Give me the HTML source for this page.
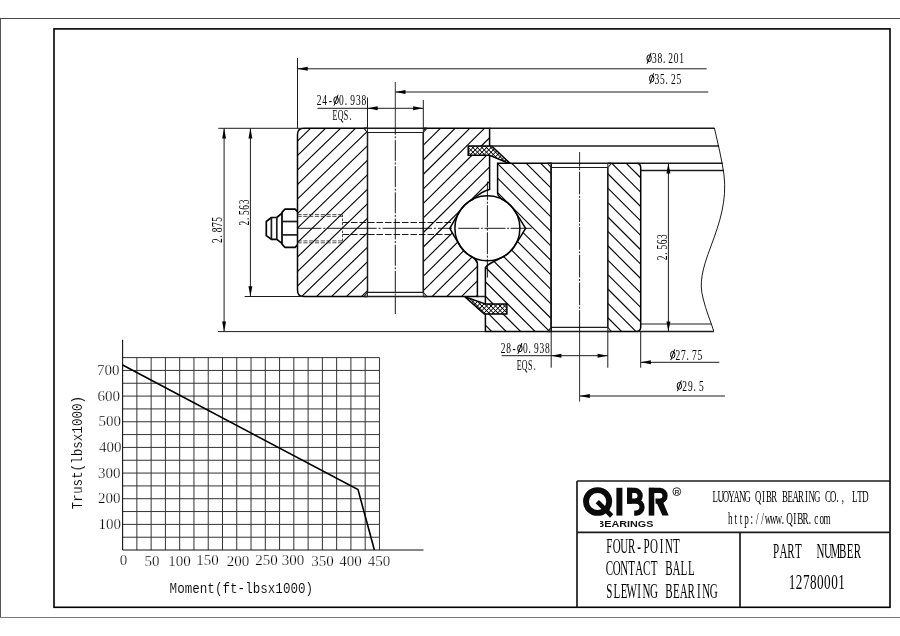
<!DOCTYPE html>
<html><head><meta charset="utf-8"><title>Four-point contact ball slewing bearing 12780001</title>
<style>
html,body{margin:0;padding:0;background:#fff;}
body{width:900px;height:636px;overflow:hidden;font-family:"Liberation Serif",serif;}
svg{display:block;opacity:0.999;will-change:transform;}
</style></head><body>
<svg width="900" height="636" viewBox="0 0 900 636">
<rect width="900" height="636" fill="#fff"/>
<defs>
<clipPath id="cOL"><path d="M367.5,128.3 L303.8,128.3 Q297.5,128.3 297.5,134.60000000000002 L297.5,290.2 Q297.5,296.5 303.8,296.5 L367.5,296.5 Z"/></clipPath>
<clipPath id="cOR"><path d="M423.3,128.3 L489.6,128.3 L489.6,189.4 Q481.5,191.2 473.41,198.97 A32.5,32.5 0 0 0 458.70,213.04 Q454.6,219.6 449.8,228.3 Q454.6,237.00000000000003 458.70,243.56 A32.5,32.5 0 0 0 472.65,257.26 Q476.6,259.6 477.4,263.2 L477.4,296.5 L423.3,296.5 Z"/></clipPath>
<clipPath id="cIL"><path d="M497.6,163.3 L551.2,163.3 L551.2,331.6 L485.4,331.6 L485.4,267.6 Q486.5,264.5 503.65,256.45 A32.5,32.5 0 0 0 516.10,243.56 Q520.4,237.00000000000003 525.6,228.3 Q520.4,219.6 516.10,213.04 A32.5,32.5 0 0 0 503.16,199.87 Q498.3,196.6 497.6,193.6 Z"/></clipPath>
<clipPath id="cIR"><path d="M607.8,163.3 L636.2,163.3 Q640.7,163.3 640.7,167.8 L640.7,327.1 Q640.7,331.6 636.2,331.6 L607.8,331.6 Z"/></clipPath>
<pattern id="xh" width="3.2" height="3.2" patternUnits="userSpaceOnUse" patternTransform="rotate(45 0 0)"><rect width="3.2" height="3.2" fill="#fff"/><path d="M0,0.4 H3.2 M0.4,0 V3.2" stroke="#000" stroke-width="0.85"/></pattern>
</defs>
<line x1="0.00" y1="18.50" x2="900.00" y2="18.50" stroke="#4a4a4a" stroke-width="1" />
<line x1="0.50" y1="18.50" x2="0.50" y2="617.50" stroke="#555" stroke-width="1" />
<line x1="0.00" y1="617.50" x2="900.00" y2="617.50" stroke="#777" stroke-width="1" />
<rect x="54" y="28.9" width="836" height="578.4" fill="none" stroke="#000" stroke-width="1.6"/>
<g clip-path="url(#cOL)" stroke="#000" stroke-width="1.12">
<line x1="290.00" y1="-373.75" x2="380.00" y2="-460.87"/>
<line x1="290.00" y1="-359.25" x2="380.00" y2="-446.37"/>
<line x1="290.00" y1="-344.75" x2="380.00" y2="-431.87"/>
<line x1="290.00" y1="-330.25" x2="380.00" y2="-417.37"/>
<line x1="290.00" y1="-315.75" x2="380.00" y2="-402.87"/>
<line x1="290.00" y1="-301.25" x2="380.00" y2="-388.37"/>
<line x1="290.00" y1="-286.75" x2="380.00" y2="-373.87"/>
<line x1="290.00" y1="-272.25" x2="380.00" y2="-359.37"/>
<line x1="290.00" y1="-257.75" x2="380.00" y2="-344.87"/>
<line x1="290.00" y1="-243.25" x2="380.00" y2="-330.37"/>
<line x1="290.00" y1="-228.75" x2="380.00" y2="-315.87"/>
<line x1="290.00" y1="-214.25" x2="380.00" y2="-301.37"/>
<line x1="290.00" y1="-199.75" x2="380.00" y2="-286.87"/>
<line x1="290.00" y1="-185.25" x2="380.00" y2="-272.37"/>
<line x1="290.00" y1="-170.75" x2="380.00" y2="-257.87"/>
<line x1="290.00" y1="-156.25" x2="380.00" y2="-243.37"/>
<line x1="290.00" y1="-141.75" x2="380.00" y2="-228.87"/>
<line x1="290.00" y1="-127.25" x2="380.00" y2="-214.37"/>
<line x1="290.00" y1="-112.75" x2="380.00" y2="-199.87"/>
<line x1="290.00" y1="-98.25" x2="380.00" y2="-185.37"/>
<line x1="290.00" y1="-83.75" x2="380.00" y2="-170.87"/>
<line x1="290.00" y1="-69.25" x2="380.00" y2="-156.37"/>
<line x1="290.00" y1="-54.75" x2="380.00" y2="-141.87"/>
<line x1="290.00" y1="-40.25" x2="380.00" y2="-127.37"/>
<line x1="290.00" y1="-25.75" x2="380.00" y2="-112.87"/>
<line x1="290.00" y1="-11.25" x2="380.00" y2="-98.37"/>
<line x1="290.00" y1="3.25" x2="380.00" y2="-83.87"/>
<line x1="290.00" y1="17.75" x2="380.00" y2="-69.37"/>
<line x1="290.00" y1="32.25" x2="380.00" y2="-54.87"/>
<line x1="290.00" y1="46.75" x2="380.00" y2="-40.37"/>
<line x1="290.00" y1="61.25" x2="380.00" y2="-25.87"/>
<line x1="290.00" y1="75.75" x2="380.00" y2="-11.37"/>
<line x1="290.00" y1="90.25" x2="380.00" y2="3.13"/>
<line x1="290.00" y1="104.75" x2="380.00" y2="17.63"/>
<line x1="290.00" y1="119.25" x2="380.00" y2="32.13"/>
<line x1="290.00" y1="133.75" x2="380.00" y2="46.63"/>
<line x1="290.00" y1="148.25" x2="380.00" y2="61.13"/>
<line x1="290.00" y1="162.75" x2="380.00" y2="75.63"/>
<line x1="290.00" y1="177.25" x2="380.00" y2="90.13"/>
<line x1="290.00" y1="191.75" x2="380.00" y2="104.63"/>
<line x1="290.00" y1="206.25" x2="380.00" y2="119.13"/>
<line x1="290.00" y1="220.75" x2="380.00" y2="133.63"/>
<line x1="290.00" y1="235.25" x2="380.00" y2="148.13"/>
<line x1="290.00" y1="249.75" x2="380.00" y2="162.63"/>
<line x1="290.00" y1="264.25" x2="380.00" y2="177.13"/>
<line x1="290.00" y1="278.75" x2="380.00" y2="191.63"/>
<line x1="290.00" y1="293.25" x2="380.00" y2="206.13"/>
<line x1="290.00" y1="307.75" x2="380.00" y2="220.63"/>
<line x1="290.00" y1="322.25" x2="380.00" y2="235.13"/>
<line x1="290.00" y1="336.75" x2="380.00" y2="249.63"/>
<line x1="290.00" y1="351.25" x2="380.00" y2="264.13"/>
<line x1="290.00" y1="365.75" x2="380.00" y2="278.63"/>
<line x1="290.00" y1="380.25" x2="380.00" y2="293.13"/>
<line x1="290.00" y1="394.75" x2="380.00" y2="307.63"/>
<line x1="290.00" y1="409.25" x2="380.00" y2="322.13"/>
<line x1="290.00" y1="423.75" x2="380.00" y2="336.63"/>
<line x1="290.00" y1="438.25" x2="380.00" y2="351.13"/>
<line x1="290.00" y1="452.75" x2="380.00" y2="365.63"/>
<line x1="290.00" y1="467.25" x2="380.00" y2="380.13"/>
<line x1="290.00" y1="481.75" x2="380.00" y2="394.63"/>
<line x1="290.00" y1="496.25" x2="380.00" y2="409.13"/>
<line x1="290.00" y1="510.75" x2="380.00" y2="423.63"/>
<line x1="290.00" y1="525.25" x2="380.00" y2="438.13"/>
<line x1="290.00" y1="539.75" x2="380.00" y2="452.63"/>
<line x1="290.00" y1="554.25" x2="380.00" y2="467.13"/>
<line x1="290.00" y1="568.75" x2="380.00" y2="481.63"/>
<line x1="290.00" y1="583.25" x2="380.00" y2="496.13"/>
<line x1="290.00" y1="597.75" x2="380.00" y2="510.63"/>
<line x1="290.00" y1="612.25" x2="380.00" y2="525.13"/>
<line x1="290.00" y1="626.75" x2="380.00" y2="539.63"/>
<line x1="290.00" y1="641.25" x2="380.00" y2="554.13"/>
<line x1="290.00" y1="655.75" x2="380.00" y2="568.63"/>
<line x1="290.00" y1="670.25" x2="380.00" y2="583.13"/>
<line x1="290.00" y1="684.75" x2="380.00" y2="597.63"/>
<line x1="290.00" y1="699.25" x2="380.00" y2="612.13"/>
<line x1="290.00" y1="713.75" x2="380.00" y2="626.63"/>
<line x1="290.00" y1="728.25" x2="380.00" y2="641.13"/>
<line x1="290.00" y1="742.75" x2="380.00" y2="655.63"/>
<line x1="290.00" y1="757.25" x2="380.00" y2="670.13"/>
<line x1="290.00" y1="771.75" x2="380.00" y2="684.63"/>
<line x1="290.00" y1="786.25" x2="380.00" y2="699.13"/>
</g>
<g clip-path="url(#cOR)" stroke="#000" stroke-width="1.12">
<line x1="415.00" y1="-428.54" x2="500.00" y2="-512.69"/>
<line x1="415.00" y1="-413.99" x2="500.00" y2="-498.14"/>
<line x1="415.00" y1="-399.44" x2="500.00" y2="-483.59"/>
<line x1="415.00" y1="-384.89" x2="500.00" y2="-469.04"/>
<line x1="415.00" y1="-370.34" x2="500.00" y2="-454.49"/>
<line x1="415.00" y1="-355.79" x2="500.00" y2="-439.94"/>
<line x1="415.00" y1="-341.24" x2="500.00" y2="-425.39"/>
<line x1="415.00" y1="-326.69" x2="500.00" y2="-410.84"/>
<line x1="415.00" y1="-312.14" x2="500.00" y2="-396.29"/>
<line x1="415.00" y1="-297.59" x2="500.00" y2="-381.74"/>
<line x1="415.00" y1="-283.04" x2="500.00" y2="-367.19"/>
<line x1="415.00" y1="-268.49" x2="500.00" y2="-352.64"/>
<line x1="415.00" y1="-253.94" x2="500.00" y2="-338.09"/>
<line x1="415.00" y1="-239.39" x2="500.00" y2="-323.54"/>
<line x1="415.00" y1="-224.84" x2="500.00" y2="-308.99"/>
<line x1="415.00" y1="-210.29" x2="500.00" y2="-294.44"/>
<line x1="415.00" y1="-195.74" x2="500.00" y2="-279.89"/>
<line x1="415.00" y1="-181.19" x2="500.00" y2="-265.34"/>
<line x1="415.00" y1="-166.64" x2="500.00" y2="-250.79"/>
<line x1="415.00" y1="-152.09" x2="500.00" y2="-236.24"/>
<line x1="415.00" y1="-137.54" x2="500.00" y2="-221.69"/>
<line x1="415.00" y1="-122.99" x2="500.00" y2="-207.14"/>
<line x1="415.00" y1="-108.44" x2="500.00" y2="-192.59"/>
<line x1="415.00" y1="-93.89" x2="500.00" y2="-178.04"/>
<line x1="415.00" y1="-79.34" x2="500.00" y2="-163.49"/>
<line x1="415.00" y1="-64.79" x2="500.00" y2="-148.94"/>
<line x1="415.00" y1="-50.24" x2="500.00" y2="-134.39"/>
<line x1="415.00" y1="-35.69" x2="500.00" y2="-119.84"/>
<line x1="415.00" y1="-21.14" x2="500.00" y2="-105.29"/>
<line x1="415.00" y1="-6.59" x2="500.00" y2="-90.74"/>
<line x1="415.00" y1="7.96" x2="500.00" y2="-76.19"/>
<line x1="415.00" y1="22.51" x2="500.00" y2="-61.64"/>
<line x1="415.00" y1="37.06" x2="500.00" y2="-47.09"/>
<line x1="415.00" y1="51.61" x2="500.00" y2="-32.54"/>
<line x1="415.00" y1="66.16" x2="500.00" y2="-17.99"/>
<line x1="415.00" y1="80.71" x2="500.00" y2="-3.44"/>
<line x1="415.00" y1="95.26" x2="500.00" y2="11.11"/>
<line x1="415.00" y1="109.81" x2="500.00" y2="25.66"/>
<line x1="415.00" y1="124.36" x2="500.00" y2="40.21"/>
<line x1="415.00" y1="138.91" x2="500.00" y2="54.76"/>
<line x1="415.00" y1="153.46" x2="500.00" y2="69.31"/>
<line x1="415.00" y1="168.01" x2="500.00" y2="83.86"/>
<line x1="415.00" y1="182.56" x2="500.00" y2="98.41"/>
<line x1="415.00" y1="197.11" x2="500.00" y2="112.96"/>
<line x1="415.00" y1="211.66" x2="500.00" y2="127.51"/>
<line x1="415.00" y1="226.21" x2="500.00" y2="142.06"/>
<line x1="415.00" y1="240.76" x2="500.00" y2="156.61"/>
<line x1="415.00" y1="255.31" x2="500.00" y2="171.16"/>
<line x1="415.00" y1="269.86" x2="500.00" y2="185.71"/>
<line x1="415.00" y1="284.41" x2="500.00" y2="200.26"/>
<line x1="415.00" y1="298.96" x2="500.00" y2="214.81"/>
<line x1="415.00" y1="313.51" x2="500.00" y2="229.36"/>
<line x1="415.00" y1="328.06" x2="500.00" y2="243.91"/>
<line x1="415.00" y1="342.61" x2="500.00" y2="258.46"/>
<line x1="415.00" y1="357.16" x2="500.00" y2="273.01"/>
<line x1="415.00" y1="371.71" x2="500.00" y2="287.56"/>
<line x1="415.00" y1="386.26" x2="500.00" y2="302.11"/>
<line x1="415.00" y1="400.81" x2="500.00" y2="316.66"/>
<line x1="415.00" y1="415.36" x2="500.00" y2="331.21"/>
<line x1="415.00" y1="429.91" x2="500.00" y2="345.76"/>
<line x1="415.00" y1="444.46" x2="500.00" y2="360.31"/>
<line x1="415.00" y1="459.01" x2="500.00" y2="374.86"/>
<line x1="415.00" y1="473.56" x2="500.00" y2="389.41"/>
<line x1="415.00" y1="488.11" x2="500.00" y2="403.96"/>
<line x1="415.00" y1="502.66" x2="500.00" y2="418.51"/>
<line x1="415.00" y1="517.21" x2="500.00" y2="433.06"/>
<line x1="415.00" y1="531.76" x2="500.00" y2="447.61"/>
<line x1="415.00" y1="546.31" x2="500.00" y2="462.16"/>
<line x1="415.00" y1="560.86" x2="500.00" y2="476.71"/>
<line x1="415.00" y1="575.41" x2="500.00" y2="491.26"/>
<line x1="415.00" y1="589.96" x2="500.00" y2="505.81"/>
<line x1="415.00" y1="604.51" x2="500.00" y2="520.36"/>
<line x1="415.00" y1="619.06" x2="500.00" y2="534.91"/>
<line x1="415.00" y1="633.61" x2="500.00" y2="549.46"/>
<line x1="415.00" y1="648.16" x2="500.00" y2="564.01"/>
<line x1="415.00" y1="662.71" x2="500.00" y2="578.56"/>
<line x1="415.00" y1="677.26" x2="500.00" y2="593.11"/>
<line x1="415.00" y1="691.81" x2="500.00" y2="607.66"/>
<line x1="415.00" y1="706.36" x2="500.00" y2="622.21"/>
<line x1="415.00" y1="720.91" x2="500.00" y2="636.76"/>
<line x1="415.00" y1="735.46" x2="500.00" y2="651.31"/>
</g>
<g clip-path="url(#cIL)" stroke="#000" stroke-width="1.12">
<line x1="480.00" y1="-476.60" x2="560.00" y2="-396.60"/>
<line x1="480.00" y1="-462.12" x2="560.00" y2="-382.12"/>
<line x1="480.00" y1="-447.64" x2="560.00" y2="-367.64"/>
<line x1="480.00" y1="-433.16" x2="560.00" y2="-353.16"/>
<line x1="480.00" y1="-418.68" x2="560.00" y2="-338.68"/>
<line x1="480.00" y1="-404.20" x2="560.00" y2="-324.20"/>
<line x1="480.00" y1="-389.72" x2="560.00" y2="-309.72"/>
<line x1="480.00" y1="-375.24" x2="560.00" y2="-295.24"/>
<line x1="480.00" y1="-360.76" x2="560.00" y2="-280.76"/>
<line x1="480.00" y1="-346.28" x2="560.00" y2="-266.28"/>
<line x1="480.00" y1="-331.80" x2="560.00" y2="-251.80"/>
<line x1="480.00" y1="-317.32" x2="560.00" y2="-237.32"/>
<line x1="480.00" y1="-302.84" x2="560.00" y2="-222.84"/>
<line x1="480.00" y1="-288.36" x2="560.00" y2="-208.36"/>
<line x1="480.00" y1="-273.88" x2="560.00" y2="-193.88"/>
<line x1="480.00" y1="-259.40" x2="560.00" y2="-179.40"/>
<line x1="480.00" y1="-244.92" x2="560.00" y2="-164.92"/>
<line x1="480.00" y1="-230.44" x2="560.00" y2="-150.44"/>
<line x1="480.00" y1="-215.96" x2="560.00" y2="-135.96"/>
<line x1="480.00" y1="-201.48" x2="560.00" y2="-121.48"/>
<line x1="480.00" y1="-187.00" x2="560.00" y2="-107.00"/>
<line x1="480.00" y1="-172.52" x2="560.00" y2="-92.52"/>
<line x1="480.00" y1="-158.04" x2="560.00" y2="-78.04"/>
<line x1="480.00" y1="-143.56" x2="560.00" y2="-63.56"/>
<line x1="480.00" y1="-129.08" x2="560.00" y2="-49.08"/>
<line x1="480.00" y1="-114.60" x2="560.00" y2="-34.60"/>
<line x1="480.00" y1="-100.12" x2="560.00" y2="-20.12"/>
<line x1="480.00" y1="-85.64" x2="560.00" y2="-5.64"/>
<line x1="480.00" y1="-71.16" x2="560.00" y2="8.84"/>
<line x1="480.00" y1="-56.68" x2="560.00" y2="23.32"/>
<line x1="480.00" y1="-42.20" x2="560.00" y2="37.80"/>
<line x1="480.00" y1="-27.72" x2="560.00" y2="52.28"/>
<line x1="480.00" y1="-13.24" x2="560.00" y2="66.76"/>
<line x1="480.00" y1="1.24" x2="560.00" y2="81.24"/>
<line x1="480.00" y1="15.72" x2="560.00" y2="95.72"/>
<line x1="480.00" y1="30.20" x2="560.00" y2="110.20"/>
<line x1="480.00" y1="44.68" x2="560.00" y2="124.68"/>
<line x1="480.00" y1="59.16" x2="560.00" y2="139.16"/>
<line x1="480.00" y1="73.64" x2="560.00" y2="153.64"/>
<line x1="480.00" y1="88.12" x2="560.00" y2="168.12"/>
<line x1="480.00" y1="102.60" x2="560.00" y2="182.60"/>
<line x1="480.00" y1="117.08" x2="560.00" y2="197.08"/>
<line x1="480.00" y1="131.56" x2="560.00" y2="211.56"/>
<line x1="480.00" y1="146.04" x2="560.00" y2="226.04"/>
<line x1="480.00" y1="160.52" x2="560.00" y2="240.52"/>
<line x1="480.00" y1="175.00" x2="560.00" y2="255.00"/>
<line x1="480.00" y1="189.48" x2="560.00" y2="269.48"/>
<line x1="480.00" y1="203.96" x2="560.00" y2="283.96"/>
<line x1="480.00" y1="218.44" x2="560.00" y2="298.44"/>
<line x1="480.00" y1="232.92" x2="560.00" y2="312.92"/>
<line x1="480.00" y1="247.40" x2="560.00" y2="327.40"/>
<line x1="480.00" y1="261.88" x2="560.00" y2="341.88"/>
<line x1="480.00" y1="276.36" x2="560.00" y2="356.36"/>
<line x1="480.00" y1="290.84" x2="560.00" y2="370.84"/>
<line x1="480.00" y1="305.32" x2="560.00" y2="385.32"/>
<line x1="480.00" y1="319.80" x2="560.00" y2="399.80"/>
<line x1="480.00" y1="334.28" x2="560.00" y2="414.28"/>
<line x1="480.00" y1="348.76" x2="560.00" y2="428.76"/>
<line x1="480.00" y1="363.24" x2="560.00" y2="443.24"/>
<line x1="480.00" y1="377.72" x2="560.00" y2="457.72"/>
<line x1="480.00" y1="392.20" x2="560.00" y2="472.20"/>
<line x1="480.00" y1="406.68" x2="560.00" y2="486.68"/>
<line x1="480.00" y1="421.16" x2="560.00" y2="501.16"/>
<line x1="480.00" y1="435.64" x2="560.00" y2="515.64"/>
<line x1="480.00" y1="450.12" x2="560.00" y2="530.12"/>
<line x1="480.00" y1="464.60" x2="560.00" y2="544.60"/>
<line x1="480.00" y1="479.08" x2="560.00" y2="559.08"/>
<line x1="480.00" y1="493.56" x2="560.00" y2="573.56"/>
<line x1="480.00" y1="508.04" x2="560.00" y2="588.04"/>
<line x1="480.00" y1="522.52" x2="560.00" y2="602.52"/>
<line x1="480.00" y1="537.00" x2="560.00" y2="617.00"/>
<line x1="480.00" y1="551.48" x2="560.00" y2="631.48"/>
<line x1="480.00" y1="565.96" x2="560.00" y2="645.96"/>
<line x1="480.00" y1="580.44" x2="560.00" y2="660.44"/>
<line x1="480.00" y1="594.92" x2="560.00" y2="674.92"/>
<line x1="480.00" y1="609.40" x2="560.00" y2="689.40"/>
<line x1="480.00" y1="623.88" x2="560.00" y2="703.88"/>
<line x1="480.00" y1="638.36" x2="560.00" y2="718.36"/>
<line x1="480.00" y1="652.84" x2="560.00" y2="732.84"/>
<line x1="480.00" y1="667.32" x2="560.00" y2="747.32"/>
<line x1="480.00" y1="681.80" x2="560.00" y2="761.80"/>
</g>
<g clip-path="url(#cIR)" stroke="#000" stroke-width="1.12">
<line x1="600.00" y1="-410.10" x2="650.00" y2="-360.10"/>
<line x1="600.00" y1="-395.70" x2="650.00" y2="-345.70"/>
<line x1="600.00" y1="-381.30" x2="650.00" y2="-331.30"/>
<line x1="600.00" y1="-366.90" x2="650.00" y2="-316.90"/>
<line x1="600.00" y1="-352.50" x2="650.00" y2="-302.50"/>
<line x1="600.00" y1="-338.10" x2="650.00" y2="-288.10"/>
<line x1="600.00" y1="-323.70" x2="650.00" y2="-273.70"/>
<line x1="600.00" y1="-309.30" x2="650.00" y2="-259.30"/>
<line x1="600.00" y1="-294.90" x2="650.00" y2="-244.90"/>
<line x1="600.00" y1="-280.50" x2="650.00" y2="-230.50"/>
<line x1="600.00" y1="-266.10" x2="650.00" y2="-216.10"/>
<line x1="600.00" y1="-251.70" x2="650.00" y2="-201.70"/>
<line x1="600.00" y1="-237.30" x2="650.00" y2="-187.30"/>
<line x1="600.00" y1="-222.90" x2="650.00" y2="-172.90"/>
<line x1="600.00" y1="-208.50" x2="650.00" y2="-158.50"/>
<line x1="600.00" y1="-194.10" x2="650.00" y2="-144.10"/>
<line x1="600.00" y1="-179.70" x2="650.00" y2="-129.70"/>
<line x1="600.00" y1="-165.30" x2="650.00" y2="-115.30"/>
<line x1="600.00" y1="-150.90" x2="650.00" y2="-100.90"/>
<line x1="600.00" y1="-136.50" x2="650.00" y2="-86.50"/>
<line x1="600.00" y1="-122.10" x2="650.00" y2="-72.10"/>
<line x1="600.00" y1="-107.70" x2="650.00" y2="-57.70"/>
<line x1="600.00" y1="-93.30" x2="650.00" y2="-43.30"/>
<line x1="600.00" y1="-78.90" x2="650.00" y2="-28.90"/>
<line x1="600.00" y1="-64.50" x2="650.00" y2="-14.50"/>
<line x1="600.00" y1="-50.10" x2="650.00" y2="-0.10"/>
<line x1="600.00" y1="-35.70" x2="650.00" y2="14.30"/>
<line x1="600.00" y1="-21.30" x2="650.00" y2="28.70"/>
<line x1="600.00" y1="-6.90" x2="650.00" y2="43.10"/>
<line x1="600.00" y1="7.50" x2="650.00" y2="57.50"/>
<line x1="600.00" y1="21.90" x2="650.00" y2="71.90"/>
<line x1="600.00" y1="36.30" x2="650.00" y2="86.30"/>
<line x1="600.00" y1="50.70" x2="650.00" y2="100.70"/>
<line x1="600.00" y1="65.10" x2="650.00" y2="115.10"/>
<line x1="600.00" y1="79.50" x2="650.00" y2="129.50"/>
<line x1="600.00" y1="93.90" x2="650.00" y2="143.90"/>
<line x1="600.00" y1="108.30" x2="650.00" y2="158.30"/>
<line x1="600.00" y1="122.70" x2="650.00" y2="172.70"/>
<line x1="600.00" y1="137.10" x2="650.00" y2="187.10"/>
<line x1="600.00" y1="151.50" x2="650.00" y2="201.50"/>
<line x1="600.00" y1="165.90" x2="650.00" y2="215.90"/>
<line x1="600.00" y1="180.30" x2="650.00" y2="230.30"/>
<line x1="600.00" y1="194.70" x2="650.00" y2="244.70"/>
<line x1="600.00" y1="209.10" x2="650.00" y2="259.10"/>
<line x1="600.00" y1="223.50" x2="650.00" y2="273.50"/>
<line x1="600.00" y1="237.90" x2="650.00" y2="287.90"/>
<line x1="600.00" y1="252.30" x2="650.00" y2="302.30"/>
<line x1="600.00" y1="266.70" x2="650.00" y2="316.70"/>
<line x1="600.00" y1="281.10" x2="650.00" y2="331.10"/>
<line x1="600.00" y1="295.50" x2="650.00" y2="345.50"/>
<line x1="600.00" y1="309.90" x2="650.00" y2="359.90"/>
<line x1="600.00" y1="324.30" x2="650.00" y2="374.30"/>
<line x1="600.00" y1="338.70" x2="650.00" y2="388.70"/>
<line x1="600.00" y1="353.10" x2="650.00" y2="403.10"/>
<line x1="600.00" y1="367.50" x2="650.00" y2="417.50"/>
<line x1="600.00" y1="381.90" x2="650.00" y2="431.90"/>
<line x1="600.00" y1="396.30" x2="650.00" y2="446.30"/>
<line x1="600.00" y1="410.70" x2="650.00" y2="460.70"/>
<line x1="600.00" y1="425.10" x2="650.00" y2="475.10"/>
<line x1="600.00" y1="439.50" x2="650.00" y2="489.50"/>
<line x1="600.00" y1="453.90" x2="650.00" y2="503.90"/>
<line x1="600.00" y1="468.30" x2="650.00" y2="518.30"/>
<line x1="600.00" y1="482.70" x2="650.00" y2="532.70"/>
<line x1="600.00" y1="497.10" x2="650.00" y2="547.10"/>
<line x1="600.00" y1="511.50" x2="650.00" y2="561.50"/>
<line x1="600.00" y1="525.90" x2="650.00" y2="575.90"/>
<line x1="600.00" y1="540.30" x2="650.00" y2="590.30"/>
<line x1="600.00" y1="554.70" x2="650.00" y2="604.70"/>
<line x1="600.00" y1="569.10" x2="650.00" y2="619.10"/>
<line x1="600.00" y1="583.50" x2="650.00" y2="633.50"/>
<line x1="600.00" y1="597.90" x2="650.00" y2="647.90"/>
<line x1="600.00" y1="612.30" x2="650.00" y2="662.30"/>
<line x1="600.00" y1="626.70" x2="650.00" y2="676.70"/>
<line x1="600.00" y1="641.10" x2="650.00" y2="691.10"/>
<line x1="600.00" y1="655.50" x2="650.00" y2="705.50"/>
<line x1="600.00" y1="669.90" x2="650.00" y2="719.90"/>
<line x1="600.00" y1="684.30" x2="650.00" y2="734.30"/>
<line x1="600.00" y1="698.70" x2="650.00" y2="748.70"/>
<line x1="600.00" y1="713.10" x2="650.00" y2="763.10"/>
<line x1="600.00" y1="727.50" x2="650.00" y2="777.50"/>
<line x1="600.00" y1="741.90" x2="650.00" y2="791.90"/>
</g>
<path d="M367.5,128.3 L303.8,128.3 Q297.5,128.3 297.5,134.60000000000002 L297.5,290.2 Q297.5,296.5 303.8,296.5 L367.5,296.5" stroke="#000" stroke-width="1.5" fill="none" />
<path d="M423.3,128.3 L489.6,128.3 L489.6,189.4 Q481.5,191.2 473.41,198.97 A32.5,32.5 0 0 0 458.70,213.04 Q454.6,219.6 449.8,228.3 Q454.6,237.00000000000003 458.70,243.56 A32.5,32.5 0 0 0 472.65,257.26 Q476.6,259.6 477.4,263.2 L477.4,296.5 L423.3,296.5" stroke="#000" stroke-width="1.5" fill="none" />
<path d="M497.6,163.3 L551.2,163.3 L551.2,331.6 L485.4,331.6 L485.4,267.6 Q486.5,264.5 503.65,256.45 A32.5,32.5 0 0 0 516.10,243.56 Q520.4,237.00000000000003 525.6,228.3 Q520.4,219.6 516.10,213.04 A32.5,32.5 0 0 0 503.16,199.87 Q498.3,196.6 497.6,193.6 Z" stroke="#000" stroke-width="1.5" fill="none" />
<path d="M607.8,163.3 L636.2,163.3 Q640.7,163.3 640.7,167.8 L640.7,327.1 Q640.7,331.6 636.2,331.6 L607.8,331.6" stroke="#000" stroke-width="1.5" fill="none" />
<line x1="367.50" y1="128.30" x2="367.50" y2="296.50" stroke="#1c1c1c" stroke-width="0.9" />
<line x1="423.30" y1="128.30" x2="423.30" y2="296.50" stroke="#1c1c1c" stroke-width="0.9" />
<line x1="367.50" y1="132.50" x2="367.50" y2="292.30" stroke="#1c1c1c" stroke-width="1.5" />
<line x1="423.30" y1="132.50" x2="423.30" y2="292.30" stroke="#1c1c1c" stroke-width="1.5" />
<line x1="367.50" y1="132.50" x2="423.30" y2="132.50" stroke="#1c1c1c" stroke-width="1.2" />
<line x1="367.50" y1="292.30" x2="423.30" y2="292.30" stroke="#1c1c1c" stroke-width="1.2" />
<line x1="363.90" y1="128.30" x2="426.90" y2="128.30" stroke="#1c1c1c" stroke-width="1.5" />
<line x1="363.90" y1="296.50" x2="426.90" y2="296.50" stroke="#1c1c1c" stroke-width="1.5" />
<line x1="363.90" y1="128.30" x2="367.50" y2="132.50" stroke="#1c1c1c" stroke-width="1.1" />
<line x1="363.90" y1="296.50" x2="367.50" y2="292.30" stroke="#1c1c1c" stroke-width="1.1" />
<line x1="426.90" y1="128.30" x2="423.30" y2="132.50" stroke="#1c1c1c" stroke-width="1.1" />
<line x1="426.90" y1="296.50" x2="423.30" y2="292.30" stroke="#1c1c1c" stroke-width="1.1" />
<line x1="551.20" y1="163.30" x2="551.20" y2="331.60" stroke="#1c1c1c" stroke-width="0.9" />
<line x1="607.80" y1="163.30" x2="607.80" y2="331.60" stroke="#1c1c1c" stroke-width="0.9" />
<line x1="551.20" y1="167.50" x2="551.20" y2="327.40" stroke="#1c1c1c" stroke-width="1.5" />
<line x1="607.80" y1="167.50" x2="607.80" y2="327.40" stroke="#1c1c1c" stroke-width="1.5" />
<line x1="551.20" y1="167.50" x2="607.80" y2="167.50" stroke="#1c1c1c" stroke-width="1.2" />
<line x1="551.20" y1="327.40" x2="607.80" y2="327.40" stroke="#1c1c1c" stroke-width="1.2" />
<line x1="547.60" y1="163.30" x2="611.40" y2="163.30" stroke="#1c1c1c" stroke-width="1.5" />
<line x1="547.60" y1="331.60" x2="611.40" y2="331.60" stroke="#1c1c1c" stroke-width="1.5" />
<line x1="547.60" y1="163.30" x2="551.20" y2="167.50" stroke="#1c1c1c" stroke-width="1.1" />
<line x1="547.60" y1="331.60" x2="551.20" y2="327.40" stroke="#1c1c1c" stroke-width="1.1" />
<line x1="611.40" y1="163.30" x2="607.80" y2="167.50" stroke="#1c1c1c" stroke-width="1.1" />
<line x1="611.40" y1="331.60" x2="607.80" y2="327.40" stroke="#1c1c1c" stroke-width="1.1" />
<circle cx="487.4" cy="228.3" r="32.5" fill="none" stroke="#000" stroke-width="1.5"/>
<line x1="477.40" y1="296.50" x2="485.40" y2="296.50" stroke="#1c1c1c" stroke-width="1.5" />
<path d="M468.2,145.9 L491.6,145.9 L509.7,163 L506.2,162.2 L489.6,155.3 L468.2,155.3 Z" stroke="#000" stroke-width="1.5" fill="url(#xh)" stroke-linejoin="miter"/>
<path d="M464.8,296.6 L485.3,303.9 L506.9,303.9 L506.9,314.1 L484.2,314.1 Z" stroke="#000" stroke-width="1.5" fill="url(#xh)" stroke-linejoin="miter"/>
<line x1="489.60" y1="128.30" x2="714.40" y2="128.30" stroke="#1c1c1c" stroke-width="1.5" />
<line x1="489.60" y1="145.90" x2="719.00" y2="145.90" stroke="#1c1c1c" stroke-width="1.5" />
<line x1="636.70" y1="163.30" x2="722.70" y2="163.30" stroke="#1c1c1c" stroke-width="1.5" />
<line x1="640.70" y1="170.60" x2="723.80" y2="170.60" stroke="#1c1c1c" stroke-width="1.5" />
<line x1="640.70" y1="324.00" x2="711.20" y2="324.00" stroke="#1c1c1c" stroke-width="1" />
<line x1="636.70" y1="331.60" x2="713.80" y2="331.60" stroke="#1c1c1c" stroke-width="1.5" />
<path d="M714.4,128 C718,144 722,160 724,175 C727,200 720,222 711,246 C702,270 699,283 703,298 C706,311 711,322 713.8,331.3" stroke="#000" stroke-width="0.9" fill="none" />
<path d="M297.4,211.6 L295.3,209.2 L284.8,209.2 L282,212.4 L282,244.1 L284.8,247.3 L295.3,247.3 L297.4,244.9" stroke="#000" stroke-width="1.7" fill="none" stroke-linejoin="round"/>
<line x1="282.00" y1="221.50" x2="297.50" y2="221.50" stroke="#1c1c1c" stroke-width="1.7" />
<line x1="282.00" y1="234.90" x2="297.50" y2="234.90" stroke="#1c1c1c" stroke-width="1.7" />
<path d="M282,213.2 L276.8,217.5 L271.4,217.5 L266.3,221.5 L266.3,235.6 L271.4,239.3 L276.8,239.3 L282,243.4" stroke="#000" stroke-width="1.7" fill="none" stroke-linejoin="round"/>
<line x1="271.40" y1="217.50" x2="271.40" y2="239.30" stroke="#1c1c1c" stroke-width="1.7" />
<line x1="276.80" y1="217.50" x2="276.80" y2="239.30" stroke="#1c1c1c" stroke-width="1.7" />
<line x1="297.50" y1="214.60" x2="342.50" y2="214.60" stroke="#333" stroke-width="0.85" stroke-dasharray="4.2 1.6"/>
<line x1="297.50" y1="216.40" x2="342.50" y2="216.40" stroke="#333" stroke-width="0.85" stroke-dasharray="4.2 1.6"/>
<line x1="297.50" y1="240.90" x2="342.50" y2="240.90" stroke="#333" stroke-width="0.85" stroke-dasharray="4.2 1.6"/>
<line x1="297.50" y1="242.80" x2="342.50" y2="242.80" stroke="#333" stroke-width="0.85" stroke-dasharray="4.2 1.6"/>
<line x1="342.50" y1="214.60" x2="342.50" y2="242.80" stroke="#333" stroke-width="0.9" stroke-dasharray="2.5 1.5"/>
<line x1="342.50" y1="222.50" x2="452.50" y2="222.50" stroke="#000" stroke-width="0.9" stroke-dasharray="6.5 2"/>
<line x1="342.50" y1="234.50" x2="452.50" y2="234.50" stroke="#000" stroke-width="0.9" stroke-dasharray="6.5 2"/>
<line x1="297.50" y1="228.30" x2="452.00" y2="228.30" stroke="#000" stroke-width="0.9" stroke-dasharray="49.3 1.9 2 2.1" stroke-dashoffset="25.4"/>
<line x1="458.30" y1="228.30" x2="532.50" y2="228.30" stroke="#000" stroke-width="0.9" stroke-dasharray="21 1.7 1.8 1.7"/>
<line x1="487.40" y1="181.50" x2="487.40" y2="277.50" stroke="#000" stroke-width="0.9" stroke-dasharray="22 1.5 2 1.5" stroke-dashoffset="3.3"/>
<line x1="395.30" y1="82.00" x2="395.30" y2="128.30" stroke="#1c1c1c" stroke-width="0.9" />
<line x1="395.30" y1="128.30" x2="395.30" y2="314.00" stroke="#000" stroke-width="0.9" stroke-dasharray="21 1.6 2 1.6" stroke-dashoffset="14.6"/>
<line x1="579.60" y1="152.00" x2="579.60" y2="163.30" stroke="#1c1c1c" stroke-width="0.9" />
<line x1="579.60" y1="163.30" x2="579.60" y2="331.60" stroke="#000" stroke-width="0.9" stroke-dasharray="22.7 1.5 2 1.5" stroke-dashoffset="19.3"/>
<line x1="579.60" y1="331.60" x2="579.60" y2="401.60" stroke="#1c1c1c" stroke-width="0.9" />
<line x1="218.30" y1="128.30" x2="302.50" y2="128.30" stroke="#1c1c1c" stroke-width="1.0" />
<line x1="244.60" y1="296.50" x2="302.50" y2="296.50" stroke="#1c1c1c" stroke-width="1.0" />
<line x1="218.00" y1="331.60" x2="485.40" y2="331.60" stroke="#1c1c1c" stroke-width="1.0" />
<line x1="224.10" y1="128.30" x2="224.10" y2="331.60" stroke="#1c1c1c" stroke-width="1.0" />
<line x1="250.40" y1="128.30" x2="250.40" y2="296.50" stroke="#1c1c1c" stroke-width="1.0" />
<polygon points="224.10,128.30 226.05,138.50 222.15,138.50" fill="#000"/>
<polygon points="224.10,331.60 222.15,321.40 226.05,321.40" fill="#000"/>
<polygon points="250.40,128.30 252.35,138.50 248.45,138.50" fill="#000"/>
<polygon points="250.40,296.50 248.45,286.30 252.35,286.30" fill="#000"/>
<g transform="translate(222.30,243.20) rotate(-90)">
<text xml:space="preserve" transform="scale(0.62,1)" x="4.27 11.11 21.37 29.92 38.47" y="0" font-family="Liberation Serif, serif" font-size="15.3" font-weight="normal" text-anchor="middle" fill="#000">2.875</text>
</g>
<g transform="translate(248.60,225.80) rotate(-90)">
<text xml:space="preserve" transform="scale(0.62,1)" x="4.27 11.11 21.37 29.92 38.47" y="0" font-family="Liberation Serif, serif" font-size="15.3" font-weight="normal" text-anchor="middle" fill="#000">2.563</text>
</g>
<line x1="297.50" y1="58.00" x2="297.50" y2="128.30" stroke="#1c1c1c" stroke-width="1.0" />
<line x1="297.50" y1="68.80" x2="706.70" y2="68.80" stroke="#1c1c1c" stroke-width="1.0" />
<polygon points="297.50,68.80 307.70,66.85 307.70,70.75" fill="#000"/>
<line x1="395.30" y1="92.00" x2="708.30" y2="92.00" stroke="#1c1c1c" stroke-width="1.0" />
<polygon points="395.30,92.00 405.50,90.05 405.50,93.95" fill="#000"/>
<g transform="translate(646.20,63.30)">
<text xml:space="preserve" transform="scale(0.62,1)" x="4.40 13.19 21.98 29.01 39.56 48.35 57.14" y="0" font-family="Liberation Serif, serif" font-size="15.3" font-weight="normal" text-anchor="middle" fill="#000"> 38.201</text>
<ellipse cx="2.93" cy="-5.01" rx="2.18" ry="3.41" fill="none" stroke="#000" stroke-width="1.0"/>
<line x1="0.96" y1="0.40" x2="4.89" y2="-10.42" stroke="#000" stroke-width="1.0"/>
</g>
<g transform="translate(648.80,83.60)">
<text xml:space="preserve" transform="scale(0.62,1)" x="4.40 13.19 21.98 29.01 39.56 48.35" y="0" font-family="Liberation Serif, serif" font-size="15.3" font-weight="normal" text-anchor="middle" fill="#000"> 35.25</text>
<ellipse cx="2.93" cy="-5.01" rx="2.18" ry="3.41" fill="none" stroke="#000" stroke-width="1.0"/>
<line x1="0.96" y1="0.40" x2="4.89" y2="-10.42" stroke="#000" stroke-width="1.0"/>
</g>
<line x1="367.50" y1="97.50" x2="367.50" y2="128.30" stroke="#1c1c1c" stroke-width="1.0" />
<line x1="423.30" y1="100.00" x2="423.30" y2="128.30" stroke="#1c1c1c" stroke-width="1.0" />
<line x1="367.50" y1="108.30" x2="423.30" y2="108.30" stroke="#1c1c1c" stroke-width="1.0" />
<polygon points="367.50,108.30 377.70,106.35 377.70,110.25" fill="#000"/>
<polygon points="423.30,108.30 413.10,110.25 413.10,106.35" fill="#000"/>
<line x1="317.50" y1="108.30" x2="367.50" y2="108.30" stroke="#1c1c1c" stroke-width="1.0" />
<g transform="translate(316.30,105.20)">
<text xml:space="preserve" transform="scale(0.62,1)" x="4.52 13.55 22.58 31.61 40.65 47.87 58.71 67.74 76.77" y="0" font-family="Liberation Serif, serif" font-size="15.3" font-weight="normal" text-anchor="middle" fill="#000">24- 0.938</text>
<ellipse cx="19.80" cy="-5.01" rx="2.24" ry="3.41" fill="none" stroke="#000" stroke-width="1.0"/>
<line x1="17.78" y1="0.40" x2="21.82" y2="-10.42" stroke="#000" stroke-width="1.0"/>
</g>
<g transform="translate(332.30,119.70)">
<text xml:space="preserve" transform="scale(0.54,1)" x="5.09 15.28 25.46 33.61" y="0" font-family="Liberation Serif, serif" font-size="14.8" font-weight="normal" text-anchor="middle" fill="#000">EQS.</text>
</g>
<line x1="551.20" y1="331.60" x2="551.20" y2="367.70" stroke="#1c1c1c" stroke-width="1.0" />
<line x1="607.80" y1="331.60" x2="607.80" y2="367.70" stroke="#1c1c1c" stroke-width="1.0" />
<line x1="551.20" y1="355.70" x2="607.80" y2="355.70" stroke="#1c1c1c" stroke-width="1.0" />
<polygon points="551.20,355.70 561.40,353.75 561.40,357.65" fill="#000"/>
<polygon points="607.80,355.70 597.60,357.65 597.60,353.75" fill="#000"/>
<line x1="501.70" y1="355.70" x2="551.20" y2="355.70" stroke="#1c1c1c" stroke-width="1.0" />
<g transform="translate(500.30,353.40)">
<text xml:space="preserve" transform="scale(0.62,1)" x="4.48 13.43 22.38 31.33 40.28 47.44 58.19 67.14 76.09" y="0" font-family="Liberation Serif, serif" font-size="15.3" font-weight="normal" text-anchor="middle" fill="#000">28- 0.938</text>
<ellipse cx="19.62" cy="-5.01" rx="2.22" ry="3.41" fill="none" stroke="#000" stroke-width="1.0"/>
<line x1="17.63" y1="0.40" x2="21.62" y2="-10.42" stroke="#000" stroke-width="1.0"/>
</g>
<g transform="translate(516.50,369.50)">
<text xml:space="preserve" transform="scale(0.54,1)" x="5.09 15.28 25.46 33.61" y="0" font-family="Liberation Serif, serif" font-size="14.8" font-weight="normal" text-anchor="middle" fill="#000">EQS.</text>
</g>
<line x1="640.70" y1="331.60" x2="640.70" y2="367.70" stroke="#1c1c1c" stroke-width="1.0" />
<line x1="640.70" y1="362.30" x2="719.30" y2="362.30" stroke="#1c1c1c" stroke-width="1.0" />
<polygon points="640.70,362.30 650.90,360.35 650.90,364.25" fill="#000"/>
<g transform="translate(669.80,359.70)">
<text xml:space="preserve" transform="scale(0.62,1)" x="4.40 13.19 21.98 29.01 39.56 48.35" y="0" font-family="Liberation Serif, serif" font-size="15.3" font-weight="normal" text-anchor="middle" fill="#000"> 27.75</text>
<ellipse cx="2.93" cy="-5.01" rx="2.18" ry="3.41" fill="none" stroke="#000" stroke-width="1.0"/>
<line x1="0.96" y1="0.40" x2="4.89" y2="-10.42" stroke="#000" stroke-width="1.0"/>
</g>
<line x1="579.60" y1="396.00" x2="725.00" y2="396.00" stroke="#1c1c1c" stroke-width="1.0" />
<polygon points="579.60,396.00 589.80,394.05 589.80,397.95" fill="#000"/>
<g transform="translate(676.40,390.80)">
<text xml:space="preserve" transform="scale(0.62,1)" x="4.48 13.43 22.38 29.54 40.28" y="0" font-family="Liberation Serif, serif" font-size="15.3" font-weight="normal" text-anchor="middle" fill="#000"> 29.5</text>
<ellipse cx="2.98" cy="-5.01" rx="2.22" ry="3.41" fill="none" stroke="#000" stroke-width="1.0"/>
<line x1="0.98" y1="0.40" x2="4.97" y2="-10.42" stroke="#000" stroke-width="1.0"/>
</g>
<line x1="668.40" y1="163.30" x2="668.40" y2="331.60" stroke="#1c1c1c" stroke-width="1.0" />
<polygon points="668.40,163.30 670.35,173.50 666.45,173.50" fill="#000"/>
<polygon points="668.40,331.60 666.45,321.40 670.35,321.40" fill="#000"/>
<g transform="translate(666.60,260.50) rotate(-90)">
<text xml:space="preserve" transform="scale(0.62,1)" x="4.27 11.11 21.37 29.92 38.47" y="0" font-family="Liberation Serif, serif" font-size="15.3" font-weight="normal" text-anchor="middle" fill="#000">2.563</text>
</g>
<line x1="136.87" y1="357.60" x2="136.87" y2="550.05" stroke="#333" stroke-width="1.0" />
<line x1="151.14" y1="357.60" x2="151.14" y2="550.05" stroke="#333" stroke-width="1.0" />
<line x1="165.41" y1="357.60" x2="165.41" y2="550.05" stroke="#333" stroke-width="1.0" />
<line x1="179.68" y1="357.60" x2="179.68" y2="550.05" stroke="#333" stroke-width="1.0" />
<line x1="193.95" y1="357.60" x2="193.95" y2="550.05" stroke="#333" stroke-width="1.0" />
<line x1="208.22" y1="357.60" x2="208.22" y2="550.05" stroke="#333" stroke-width="1.0" />
<line x1="222.49" y1="357.60" x2="222.49" y2="550.05" stroke="#333" stroke-width="1.0" />
<line x1="236.76" y1="357.60" x2="236.76" y2="550.05" stroke="#333" stroke-width="1.0" />
<line x1="251.03" y1="357.60" x2="251.03" y2="550.05" stroke="#333" stroke-width="1.0" />
<line x1="265.30" y1="357.60" x2="265.30" y2="550.05" stroke="#333" stroke-width="1.0" />
<line x1="279.57" y1="357.60" x2="279.57" y2="550.05" stroke="#333" stroke-width="1.0" />
<line x1="293.84" y1="357.60" x2="293.84" y2="550.05" stroke="#333" stroke-width="1.0" />
<line x1="308.11" y1="357.60" x2="308.11" y2="550.05" stroke="#333" stroke-width="1.0" />
<line x1="322.38" y1="357.60" x2="322.38" y2="550.05" stroke="#333" stroke-width="1.0" />
<line x1="336.65" y1="357.60" x2="336.65" y2="550.05" stroke="#333" stroke-width="1.0" />
<line x1="350.92" y1="357.60" x2="350.92" y2="550.05" stroke="#333" stroke-width="1.0" />
<line x1="365.19" y1="357.60" x2="365.19" y2="550.05" stroke="#333" stroke-width="1.0" />
<line x1="379.46" y1="357.60" x2="379.46" y2="550.05" stroke="#333" stroke-width="1.0" />
<line x1="122.60" y1="357.60" x2="379.46" y2="357.60" stroke="#333" stroke-width="1.0" />
<line x1="122.60" y1="370.43" x2="379.46" y2="370.43" stroke="#333" stroke-width="1.0" />
<line x1="122.60" y1="383.26" x2="379.46" y2="383.26" stroke="#333" stroke-width="1.0" />
<line x1="122.60" y1="396.09" x2="379.46" y2="396.09" stroke="#333" stroke-width="1.0" />
<line x1="122.60" y1="408.92" x2="379.46" y2="408.92" stroke="#333" stroke-width="1.0" />
<line x1="122.60" y1="421.75" x2="379.46" y2="421.75" stroke="#333" stroke-width="1.0" />
<line x1="122.60" y1="434.58" x2="379.46" y2="434.58" stroke="#333" stroke-width="1.0" />
<line x1="122.60" y1="447.41" x2="379.46" y2="447.41" stroke="#333" stroke-width="1.0" />
<line x1="122.60" y1="460.24" x2="379.46" y2="460.24" stroke="#333" stroke-width="1.0" />
<line x1="122.60" y1="473.07" x2="379.46" y2="473.07" stroke="#333" stroke-width="1.0" />
<line x1="122.60" y1="485.90" x2="379.46" y2="485.90" stroke="#333" stroke-width="1.0" />
<line x1="122.60" y1="498.73" x2="379.46" y2="498.73" stroke="#333" stroke-width="1.0" />
<line x1="122.60" y1="511.56" x2="379.46" y2="511.56" stroke="#333" stroke-width="1.0" />
<line x1="122.60" y1="524.39" x2="379.46" y2="524.39" stroke="#333" stroke-width="1.0" />
<line x1="122.60" y1="537.22" x2="379.46" y2="537.22" stroke="#333" stroke-width="1.0" />
<line x1="122.60" y1="339.80" x2="122.60" y2="550.05" stroke="#111" stroke-width="1.1" />
<line x1="122.60" y1="550.05" x2="423.50" y2="550.05" stroke="#111" stroke-width="1.1" />
<path d="M122.6,365 L358,489.6 L374.4,550.05" stroke="#000" stroke-width="1.6" fill="none" />
<text x="121.0" y="528.99" font-family="Liberation Serif, serif" font-size="15" text-anchor="end" stroke="#fff" stroke-width="0.25">100</text>
<text x="120.4" y="503.33" font-family="Liberation Serif, serif" font-size="15" text-anchor="end" stroke="#fff" stroke-width="0.25">200</text>
<text x="120.6" y="477.67" font-family="Liberation Serif, serif" font-size="15" text-anchor="end" stroke="#fff" stroke-width="0.25">300</text>
<text x="121.6" y="452.01" font-family="Liberation Serif, serif" font-size="15" text-anchor="end" stroke="#fff" stroke-width="0.25">400</text>
<text x="121.0" y="426.35" font-family="Liberation Serif, serif" font-size="15" text-anchor="end" stroke="#fff" stroke-width="0.25">500</text>
<text x="120.0" y="400.69" font-family="Liberation Serif, serif" font-size="15" text-anchor="end" stroke="#fff" stroke-width="0.25">600</text>
<text x="119.6" y="375.03" font-family="Liberation Serif, serif" font-size="15" text-anchor="end" stroke="#fff" stroke-width="0.25">700</text>
<text x="123.4" y="564.6" font-family="Liberation Serif, serif" font-size="15" text-anchor="middle" stroke="#fff" stroke-width="0.25">0</text>
<text x="152" y="565.8" font-family="Liberation Serif, serif" font-size="15" text-anchor="middle" stroke="#fff" stroke-width="0.25">50</text>
<text x="179.6" y="565.8" font-family="Liberation Serif, serif" font-size="15" text-anchor="middle" stroke="#fff" stroke-width="0.25">100</text>
<text x="207.6" y="564.8" font-family="Liberation Serif, serif" font-size="15" text-anchor="middle" stroke="#fff" stroke-width="0.25">150</text>
<text x="238" y="566" font-family="Liberation Serif, serif" font-size="15" text-anchor="middle" stroke="#fff" stroke-width="0.25">200</text>
<text x="266.4" y="564.6" font-family="Liberation Serif, serif" font-size="15" text-anchor="middle" stroke="#fff" stroke-width="0.25">250</text>
<text x="293" y="564.6" font-family="Liberation Serif, serif" font-size="15" text-anchor="middle" stroke="#fff" stroke-width="0.25">300</text>
<text x="322.4" y="566" font-family="Liberation Serif, serif" font-size="15" text-anchor="middle" stroke="#fff" stroke-width="0.25">350</text>
<text x="350.4" y="566" font-family="Liberation Serif, serif" font-size="15" text-anchor="middle" stroke="#fff" stroke-width="0.25">400</text>
<text x="379" y="566.4" font-family="Liberation Serif, serif" font-size="15" text-anchor="middle" stroke="#fff" stroke-width="0.25">450</text>
<text xml:space="preserve" transform="translate(169.60,592.60) scale(0.8629,1)" x="0" y="0" font-family="Liberation Mono, monospace" font-size="14.6" fill="#000" stroke="#fff" stroke-width="0.12">Moment(ft-lbsx1000)</text>
<text xml:space="preserve" transform="translate(82.30,509.20) rotate(-90) scale(0.8629,1)" x="0" y="0" font-family="Liberation Mono, monospace" font-size="14.6" fill="#000" stroke="#fff" stroke-width="0.12">Trust(lbsx1000)</text>
<line x1="577.00" y1="481.00" x2="890.00" y2="481.00" stroke="#1c1c1c" stroke-width="1.7" />
<line x1="577.00" y1="481.00" x2="577.00" y2="607.30" stroke="#1c1c1c" stroke-width="1.7" />
<line x1="577.00" y1="532.40" x2="890.00" y2="532.40" stroke="#1c1c1c" stroke-width="1.7" />
<line x1="740.00" y1="532.40" x2="740.00" y2="607.30" stroke="#1c1c1c" stroke-width="1.7" />
<g transform="translate(712.60,502.20)">
<text xml:space="preserve" transform="scale(0.52,1)" x="5.15 15.46 25.77 36.08 46.38 56.69 67.00 77.31 87.62 97.92 108.23 118.54 128.85 139.15 149.46 159.77 170.08 180.38 190.69 201.00 211.31 221.62 231.92 240.17 250.48 262.85 273.15 283.46 293.77" y="0" font-family="Liberation Serif, serif" font-size="17" font-weight="normal" text-anchor="middle" fill="#000">LUOYANG QIBR BEARING CO., LTD</text>
</g>
<g transform="translate(727.60,523.60)">
<text xml:space="preserve" transform="scale(0.55,1)" x="4.89 14.67 24.45 34.24 44.02" y="0" font-family="Liberation Serif, serif" font-size="16.6" font-weight="normal" text-anchor="middle" fill="#000">http:</text>
</g>
<g transform="translate(754.50,523.60)">
<text xml:space="preserve" transform="scale(0.55,1)" x="4.89 14.67 24.45 34.24 44.02 51.84 63.58 73.36 83.15 92.93 100.75 112.49 122.27 132.05" y="0" font-family="Liberation Serif, serif" font-size="16.6" font-weight="normal" text-anchor="middle" fill="#000">//www.QIBR.com</text>
</g>
<g transform="translate(605.60,553.20)">
<text xml:space="preserve" transform="scale(0.5,1)" x="7.45 22.35 37.25 52.15 67.05 81.95 96.85 111.75 126.65 141.55" y="0" font-family="Liberation Serif, serif" font-size="22" font-weight="normal" text-anchor="middle" fill="#000">FOUR-POINT</text>
</g>
<g transform="translate(605.60,575.20)">
<text xml:space="preserve" transform="scale(0.5,1)" x="7.45 22.35 37.25 52.15 67.05 81.95 96.85 111.75 126.65 141.55 156.45 171.35" y="0" font-family="Liberation Serif, serif" font-size="22" font-weight="normal" text-anchor="middle" fill="#000">CONTACT BALL</text>
</g>
<g transform="translate(605.60,598.20)">
<text xml:space="preserve" transform="scale(0.5,1)" x="7.45 22.35 37.25 52.15 67.05 81.95 96.85 111.75 126.65 141.55 156.45 171.35 186.25 201.15 216.05" y="0" font-family="Liberation Serif, serif" font-size="22" font-weight="normal" text-anchor="middle" fill="#000">SLEWING BEARING</text>
</g>
<g transform="translate(772.40,558.20)">
<text xml:space="preserve" transform="scale(0.5,1)" x="7.40 22.20 37.00 51.80 66.60 81.40 96.20 111.00 125.80 140.60 155.40 170.20" y="0" font-family="Liberation Serif, serif" font-size="22" font-weight="normal" text-anchor="middle" fill="#000">PART  NUMBER</text>
</g>
<g transform="translate(788.60,589.20)">
<text xml:space="preserve" transform="scale(0.6,1)" x="5.88 17.62 29.38 41.12 52.88 64.62 76.38 88.12" y="0" font-family="Liberation Serif, serif" font-size="22" font-weight="normal" text-anchor="middle" fill="#000">12780001</text>
</g>
<ellipse cx="597.6" cy="501.5" rx="11.6" ry="11.4" fill="none" stroke="#0a0a0a" stroke-width="5.9"/>
<line x1="597.3" y1="501.6" x2="611.7" y2="516" stroke="#0a0a0a" stroke-width="4.7"/>
<rect x="616.4" y="487.8" width="6.0" height="27.8" fill="#0a0a0a"/>
<g fill="none" stroke="#0a0a0a" stroke-width="5.2">
<line x1="629.6" y1="487.8" x2="629.6" y2="503.7"/>
<path d="M627,490.37 H635.1 A5.4,5.4 0 0 1 635.1,501.15 H627"/>
<path d="M635.5,501.15 H636.4 A5.95,5.95 0 0 1 636.4,513.03 H634.2"/>
<line x1="651.5" y1="487.8" x2="651.5" y2="515.6" stroke-width="5.6"/>
<path d="M649,490.37 H660 A5.4,5.4 0 0 1 660,501.15 H655.4"/>
</g>
<polygon points="655.4,500 662.2,500 668.7,515.6 662.4,515.6" fill="#0a0a0a"/>
<line x1="655.6" y1="499.2" x2="655.6" y2="507" stroke="#fff" stroke-width="0.5" opacity="0.55"/>
<circle cx="676.8" cy="491.6" r="3.9" fill="none" stroke="#222" stroke-width="0.95"/>
<text x="676.9" y="493.9" font-family="Liberation Sans, sans-serif" font-size="6.2" font-weight="bold" text-anchor="middle" fill="#222">R</text>
<text x="596.4" y="527.3" font-family="Liberation Sans, sans-serif" font-size="8.5" font-weight="bold" textLength="57" lengthAdjust="spacingAndGlyphs" fill="#111">BEARINGS</text>
<rect x="596.6" y="520" width="3.5" height="8" fill="#fff"/>
</svg>
</body></html>
